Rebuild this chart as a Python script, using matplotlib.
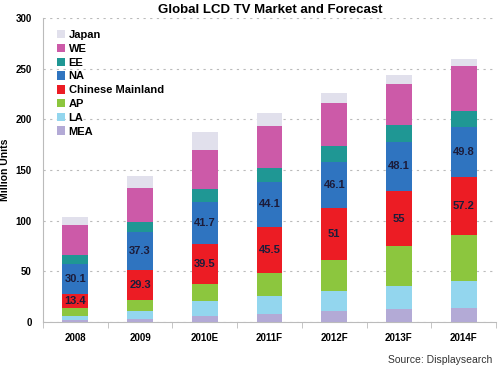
import matplotlib
matplotlib.use("Agg")
import matplotlib.pyplot as plt
import numpy as np

plt.rcParams['font.family'] = ['Liberation Sans', 'DejaVu Sans']

years = ["2008", "2009", "2010E", "2011F", "2012F", "2013F", "2014F"]
series_names = ["MEA", "LA", "AP", "Chinese Mainland", "NA", "EE", "WE", "Japan"]
MEA = [2, 3, 6, 7.5, 11, 12.5, 14]
LA = [4, 8, 15, 18.5, 19.5, 22.5, 26]
AP = [8, 11, 16, 22.5, 30.5, 39.5, 45.5]
CHN = [13.4, 29.3, 39.5, 45.5, 51, 55, 57.2]
NA = [30.1, 37.3, 41.7, 44.1, 46.1, 48.1, 49.8]
EE = [9, 10, 12.5, 14, 15, 16.5, 15.5]
WE = [29.5, 34, 39, 41, 42.5, 41, 44.5]
JAPAN = [8, 11, 17.5, 13, 10, 8.7, 7]
colors = ["#b3aad6", "#93d6ee", "#8cc63e", "#ec1c24", "#2f74c0", "#1f9794", "#cc5aa8", "#e1e0ec"]

data = [MEA, LA, AP, CHN, NA, EE, WE, JAPAN]

fig = plt.figure(figsize=(5, 3.73), dpi=100)
ax = fig.add_axes([0.086, 0.137, 0.906, 0.815])

x = np.arange(len(years))
bottom = np.zeros(len(years))
handles = {}
for name, vals, c in zip(series_names, data, colors):
    vals = np.array(vals)
    b = ax.bar(x, vals, 0.4, bottom=bottom, color=c, label=name, zorder=3)
    handles[name] = b
    if name in ("Chinese Mainland", "NA"):
        for xi, bi, vi in zip(x, bottom, vals):
            ax.text(xi, bi + vi / 2, f"{vi:g}", ha="center", va="center",
                    fontsize=8, fontweight="bold", color="#1c1c3a", zorder=4)
    bottom = bottom + vals

ax.set_xlim(-0.5, 6.5)
ax.set_ylim(0, 300)
ax.set_yticks(range(0, 301, 50))
ax.set_xticks(x)
ax.set_xticklabels(years, fontsize=7, fontweight="bold")
ax.tick_params(axis="y", labelsize=7, length=0, pad=8)
ax.tick_params(axis="x", length=0, pad=8)
for lab in ax.get_yticklabels():
    lab.set_fontweight("bold")
# minor ticks between categories
ax.set_xticks(np.arange(-0.5, 6.6, 1), minor=True)
ax.tick_params(axis="x", which="minor", length=4, color="#bbbbbb")

ax.yaxis.grid(True, linestyle=(0, (2, 4)), color="#bbbbbb", linewidth=0.8, zorder=0)
for s in ("top", "right"):
    ax.spines[s].set_visible(False)
ax.spines["left"].set_color("#bbbbbb")
ax.spines["bottom"].set_color("#bbbbbb")

ax.set_ylabel("Million Units", fontsize=7.5, fontweight="bold")
ax.yaxis.set_label_coords(-0.072, 0.5)
fig.text(0.54, 0.972, "Global LCD TV Market and Forecast", ha="center", va="center",
         fontsize=9.5, fontweight="bold")

order = ["Japan", "WE", "EE", "NA", "Chinese Mainland", "AP", "LA", "MEA"]
leg = ax.legend([handles[n] for n in order], order, loc="upper left",
                bbox_to_anchor=(0.02, 0.975), frameon=False, fontsize=8,
                handlelength=0.8, handleheight=0.8, handletextpad=0.3,
                labelspacing=0.33, borderaxespad=0)
for t in leg.get_texts():
    t.set_fontweight("bold")

fig.text(0.985, 0.035, "Source: Displaysearch", ha="right", va="center",
         fontsize=7.5, color="#333333")

fig.savefig("out.png", dpi=100)
